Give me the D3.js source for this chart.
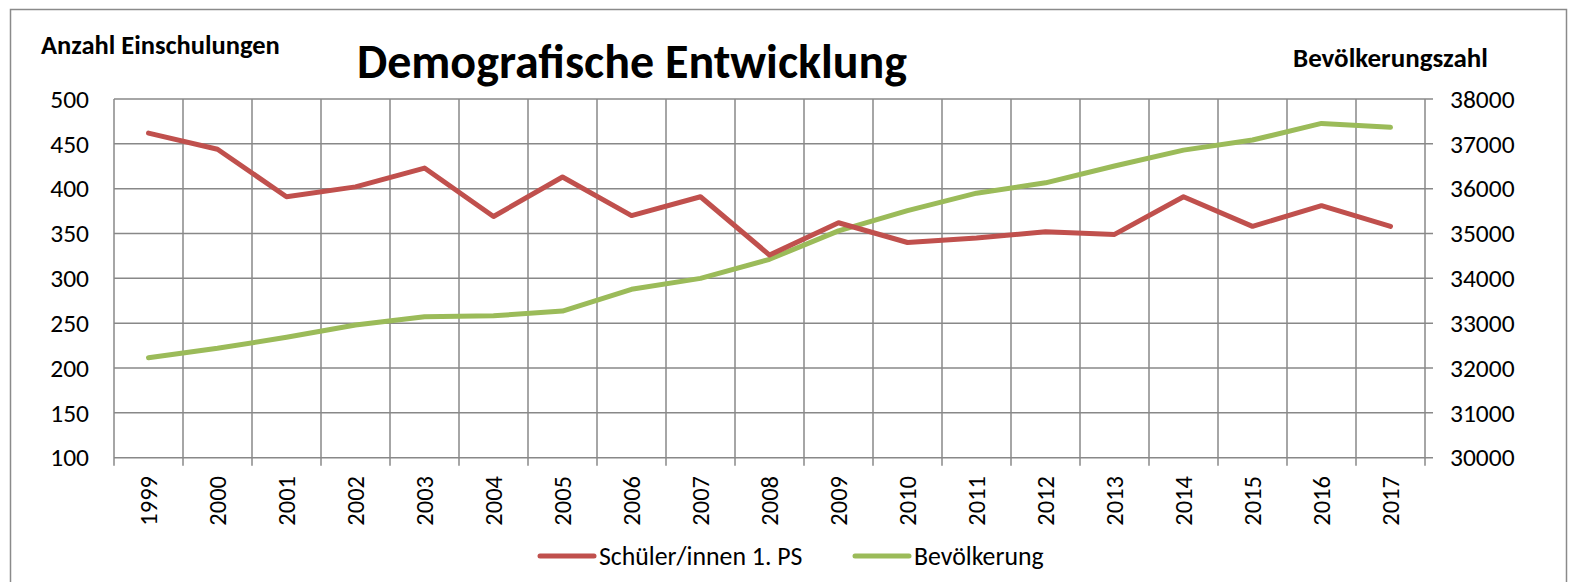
<!DOCTYPE html>
<html>
<head>
<meta charset="utf-8">
<script src="https://cdn.jsdelivr.net/npm/d3@7"></script>
<style>
  html, body { margin: 0; padding: 0; background: #fff; }
  svg { display: block; font-family: Carlito, Lato, "Open Sans", sans-serif; }
</style>
</head>
<body>
<svg width="1579" height="582"></svg>
<script>
// data
const years = ["1999","2000","2001","2002","2003","2004","2005","2006","2007","2008",
               "2009","2010","2011","2012","2013","2014","2015","2016","2017"];
const schueler = [462, 444, 391, 402, 423, 369, 413, 370, 391, 326,
                  362, 340, 345, 352, 349, 391, 358, 381, 358];
const bevoelkerung = [32230, 32440, 32685, 32960, 33145, 33165, 33270, 33755, 34000, 34425,
                      35060, 35510, 35900, 36130, 36505, 36860, 37085, 37455, 37370];
const leftTicks = [100, 150, 200, 250, 300, 350, 400, 450, 500];
const rightTicks = [30000, 31000, 32000, 33000, 34000, 35000, 36000, 37000, 38000];

const svg = d3.select("svg");
const W = +svg.attr("width");
const H = +svg.attr("height");

const plotLeft = 114, plotRight = 1425, plotTop = 99, plotBottom = 457.7;
const gridColor = "#888888";
const red = "#C0504D", green = "#9BBB59";

svg.append("rect").attr("width", W).attr("height", H).attr("fill", "#fff");

// outer chart border
svg.append("rect")
    .attr("x", 10.5).attr("y", 9.5)
    .attr("width", 1556).attr("height", 620)
    .attr("fill", "none")
    .attr("stroke", "#8a8a8a")
    .attr("stroke-width", 1.5);

const x = d3.scaleBand().domain(years).range([plotLeft, plotRight]);
const yL = d3.scaleLinear().domain([100, 500]).range([plotBottom, plotTop]);
const yR = d3.scaleLinear().domain([30000, 38000]).range([plotBottom, plotTop]);
const cx = d => x(d) + x.bandwidth() / 2;

// horizontal gridlines
svg.append("g")
    .selectAll("line")
    .data(leftTicks)
    .enter().append("line")
    .attr("x1", plotLeft).attr("x2", plotRight + 8)
    .attr("y1", d => yL(d)).attr("y2", d => yL(d))
    .attr("stroke", gridColor).attr("stroke-width", 1.5);

// vertical gridlines (category boundaries), extend below as ticks
const bounds = years.map(d => x(d)).concat([plotRight]);
svg.append("g")
    .selectAll("line")
    .data(bounds)
    .enter().append("line")
    .attr("x1", d => d).attr("x2", d => d)
    .attr("y1", plotTop).attr("y2", plotBottom + 8)
    .attr("stroke", gridColor).attr("stroke-width", 1.5);

// left axis labels
const axL = svg.append("g")
    .attr("transform", `translate(${plotLeft},0)`)
    .call(d3.axisLeft(yL).tickValues(leftTicks).tickSize(0).tickPadding(25).tickFormat(d3.format("d")));
axL.select(".domain").remove();

// right axis labels
const axR = svg.append("g")
    .attr("transform", `translate(${plotRight},0)`)
    .call(d3.axisRight(yR).tickValues(rightTicks).tickSize(0).tickPadding(25).tickFormat(d3.format("d")));
axR.select(".domain").remove();

svg.selectAll(".tick text")
    .attr("font-family", "Carlito, Lato, sans-serif")
    .attr("font-size", 25.5)
    .attr("fill", "#000");

// x labels, rotated
svg.append("g")
    .selectAll("text")
    .data(years)
    .enter().append("text")
    .attr("transform", d => `translate(${cx(d)},476) rotate(-90)`)
    .attr("text-anchor", "end")
    .attr("dy", "0.35em")
    .attr("font-size", 24.5)
    .text(d => d);

// lines
const lineL = d3.line().x((d, i) => cx(years[i])).y(d => yL(d));
const lineR = d3.line().x((d, i) => cx(years[i])).y(d => yR(d));

svg.append("path")
    .datum(bevoelkerung)
    .attr("d", lineR)
    .attr("fill", "none")
    .attr("stroke", green)
    .attr("stroke-width", 5)
    .attr("stroke-linejoin", "round")
    .attr("stroke-linecap", "round");

svg.append("path")
    .datum(schueler)
    .attr("d", lineL)
    .attr("fill", "none")
    .attr("stroke", red)
    .attr("stroke-width", 5)
    .attr("stroke-linejoin", "round")
    .attr("stroke-linecap", "round");

// titles
svg.append("text")
    .attr("x", 41).attr("y", 54)
    .attr("font-weight", "bold").attr("font-size", 26.5)
    .text("Anzahl Einschulungen");

svg.append("text")
    .attr("x", 632).attr("y", 78)
    .attr("text-anchor", "middle")
    .attr("font-weight", "bold").attr("font-size", 48)
    .text("Demografische Entwicklung");

svg.append("text")
    .attr("x", 1293).attr("y", 66.5)
    .attr("font-weight", "bold").attr("font-size", 27)
    .text("Bevölkerungszahl");

// legend
const legend = [
    { name: "Schüler/innen 1. PS", color: red, x: 540 },
    { name: "Bevölkerung", color: green, x: 855 }
];
const lg = svg.append("g")
    .selectAll("g")
    .data(legend)
    .enter().append("g")
    .attr("transform", d => `translate(${d.x},556)`);
lg.append("line")
    .attr("x1", 0).attr("x2", 54)
    .attr("stroke", d => d.color)
    .attr("stroke-width", 5)
    .attr("stroke-linecap", "round");
lg.append("text")
    .attr("x", 59)
    .attr("dy", "0.35em")
    .attr("font-size", 25.8)
    .text(d => d.name);
</script>
</body>
</html>
